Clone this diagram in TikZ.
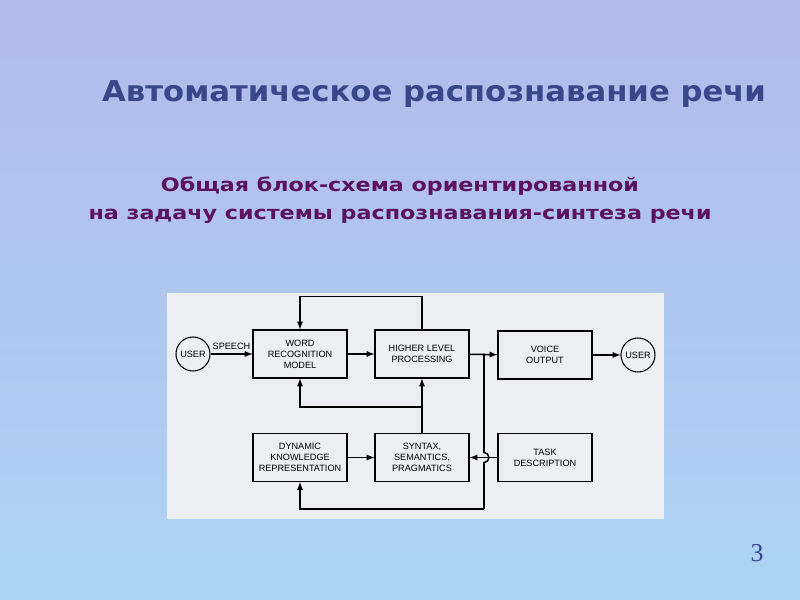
\documentclass[tikz,border=0pt]{standalone}
\usepackage{fontspec}
\setmainfont{Liberation Sans}
\newfontfamily\titlefont[FakeStretch=1.07]{DejaVu Sans}
\newfontfamily\subfont[FakeStretch=1.2]{DejaVu Sans}
\newfontfamily\numfont{Liberation Serif}
\usepackage{tikz}

\definecolor{bgtop}{RGB}{178,186,234}
\definecolor{bgbot}{RGB}{172,212,244}
\definecolor{panel}{RGB}{236,238,242}
\definecolor{titleblue}{RGB}{58,70,138}
\definecolor{subpurple}{RGB}{92,18,92}

\tikzset{
  block/.style={draw,line width=0.9pt,minimum width=2.82cm,minimum height=1.44cm,
    align=center,inner sep=0pt,font=\fontsize{7.8}{9.5}\selectfont},
  user/.style={draw,circle,line width=0.9pt,minimum size=1.02cm,inner sep=0pt,
    font=\fontsize{7.8}{9.5}\selectfont},
  flow/.style={->,line width=1.3pt}
}

\begin{document}
\begin{tikzpicture}[x=0.03cm,y=-0.03cm,>=latex]
\useasboundingbox (0,0) rectangle (800,600);
\fill[top color=bgtop,bottom color=bgbot] (0,0) rectangle (800,600);
\fill[panel] (167,293) rectangle (664,519);

% headings
\node[font=\titlefont\bfseries\fontsize{24.5}{28}\selectfont,text=titleblue] (title) at (434,94) {Автоматическое распознавание речи};
\node[font=\subfont\bfseries\fontsize{15.8}{24}\selectfont,text=subpurple,align=center] (sub) at (400,200) {Общая блок-схема ориентированной\\на задачу системы распознавания-синтеза речи};
\node[font=\numfont\fontsize{22}{25}\selectfont,text=titleblue] (num) at (757,553) {3};

% blocks
\node[block] (wrm) at (300,354) {WORD\\RECOGNITION\\MODEL};
\node[block] (hlp) at (422,354) {HIGHER LEVEL\\PROCESSING};
\node[block] (vo) at (545,355) {VOICE\\OUTPUT};
\node[block] (dkr) at (300,457.5) {DYNAMIC\\KNOWLEDGE\\REPRESENTATION};
\node[block] (ssp) at (422,457.5) {SYNTAX,\\SEMANTICS,\\PRAGMATICS};
\node[block] (task) at (545,457.5) {TASK\\DESCRIPTION};
\node[user] (u1) at (193,354) {USER};
\node[user] (u2) at (638,355) {USER};

\coordinate (split) at (484,354);
\coordinate (hopin) at (484,452.5);
\coordinate (hopout) at (484,462.5);
\coordinate (low) at (484,509);

% connectors
\draw[flow] (u1) -- node[above,font=\fontsize{7.8}{9.5}\selectfont] {SPEECH} (wrm);
\draw[flow] (wrm) -- (hlp);
\draw[flow] (hlp) -- (vo);
\draw[flow] (vo) -- (u2);
\draw[flow] (hlp.north) -- ++(0,-33) -| (wrm.north);
\draw[flow] (ssp.north) -- (hlp.south);
\path (ssp.north) ++(0,-26) coordinate (fork);
\draw[flow] (fork) -| (wrm.south);
\draw[flow] (dkr) -- (ssp);
\draw[flow] (task) -- (ssp);
\draw[line width=1.3pt] (split) -- (hopin) arc(-90:90:5) -- (low);
\draw[flow] (low) -| (dkr.south);
\end{tikzpicture}
\end{document}
